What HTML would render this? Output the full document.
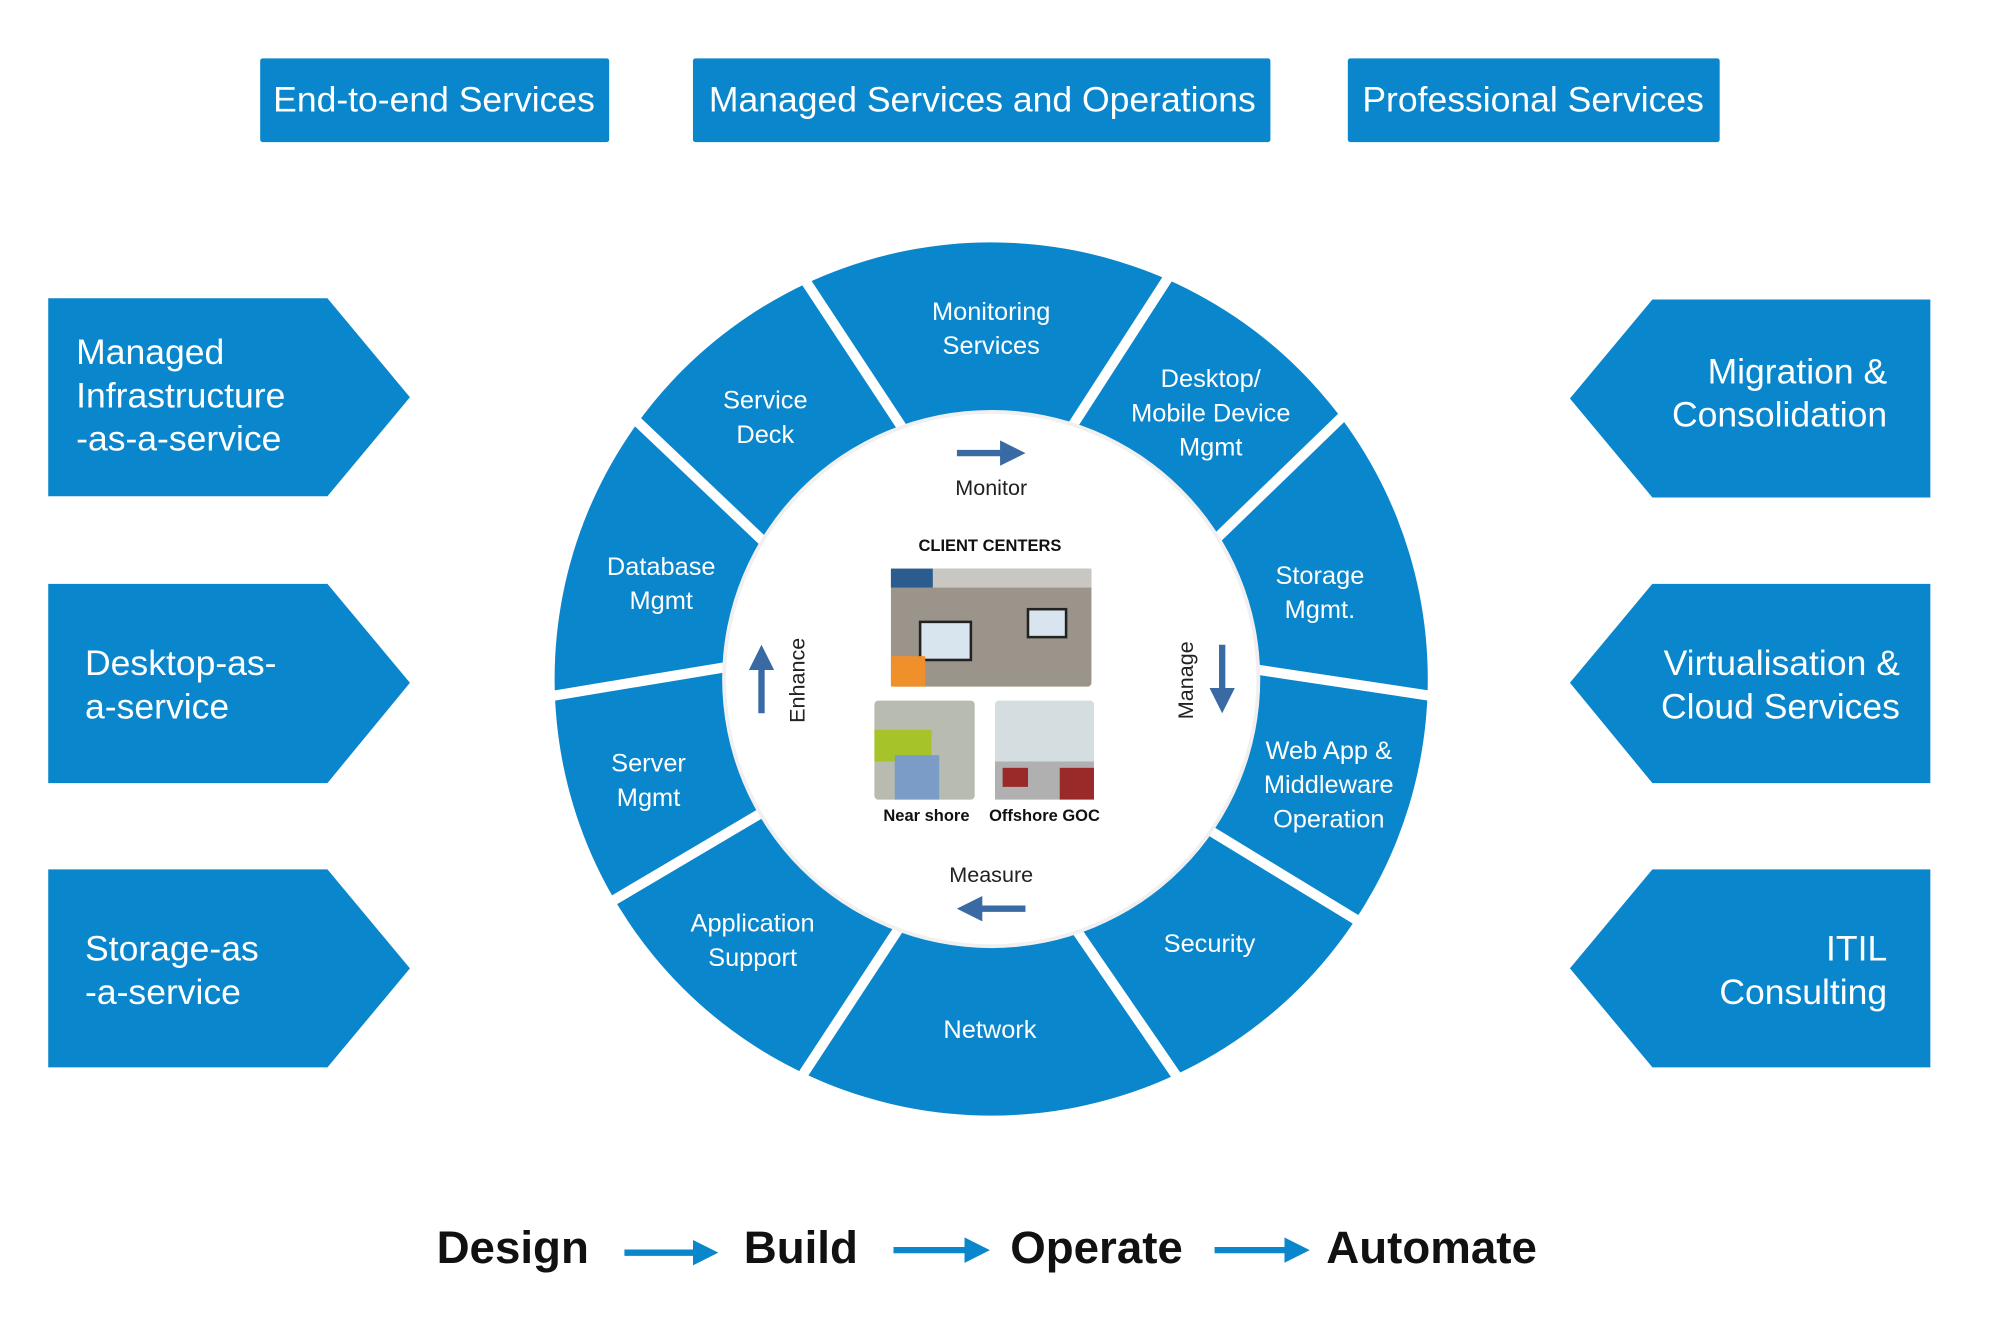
<!DOCTYPE html>
<html><head><meta charset="utf-8"><style>
html,body{margin:0;padding:0;background:#fff}
svg{display:block}
text{font-family:"Liberation Sans",Arial,sans-serif}
</style></head><body>
<svg width="1990" height="1333" viewBox="0 0 1568 1050.3" preserveAspectRatio="none" xmlns="http://www.w3.org/2000/svg">
<defs>
<marker id="ah" markerWidth="4" markerHeight="4" refX="2" refY="2" orient="auto" markerUnits="strokeWidth"><path d="M0,0 L4,2 L0,4 z" fill="#3a6aa3"/></marker>
<marker id="bh" markerWidth="4" markerHeight="4" refX="2" refY="2" orient="auto" markerUnits="strokeWidth"><path d="M0,0 L4,2 L0,4 z" fill="#0a86cc"/></marker>
</defs>
<g fill="#0a86cc">
<rect x="205" y="46" width="275" height="66" rx="2"/>
<rect x="546" y="46" width="455" height="66" rx="2"/>
<rect x="1062" y="46" width="293" height="66" rx="2"/>
<path d="M38,235 H258 L323,313 L258,391 H38 Z"/>
<path d="M38,460 H258 L323,538 L258,617 H38 Z"/>
<path d="M38,685 H258 L323,763 L258,841 H38 Z"/>
<path d="M1521,236 H1302 L1237,314 L1302,392 H1521 Z"/>
<path d="M1521,460 H1302 L1237,538 L1302,617 H1521 Z"/>
<path d="M1521,685 H1302 L1237,763 L1302,841 H1521 Z"/>
</g>
<g fill="#fff" font-size="28">
<text x="342" y="88" text-anchor="middle">End-to-end Services</text>
<text x="774" y="88" text-anchor="middle">Managed Services and Operations</text>
<text x="1208" y="88" text-anchor="middle">Professional Services</text>
<text x="60" y="287">Managed</text>
<text x="60" y="321">Infrastructure</text>
<text x="60" y="355">-as-a-service</text>
<text x="67" y="532">Desktop-as-</text>
<text x="67" y="566">a-service</text>
<text x="67" y="757">Storage-as</text>
<text x="67" y="791">-a-service</text>
<text x="1487" y="302" text-anchor="end">Migration &amp;</text>
<text x="1487" y="336" text-anchor="end">Consolidation</text>
<text x="1497" y="532" text-anchor="end">Virtualisation &amp;</text>
<text x="1497" y="566" text-anchor="end">Cloud Services</text>
<text x="1487" y="757" text-anchor="end">ITIL</text>
<text x="1487" y="791" text-anchor="end">Consulting</text>
</g>
<circle cx="781" cy="535" r="344" fill="#0a86cc"/>
<g stroke="#fff" stroke-width="8">
<line x1="740.3" y1="381.6" x2="621.6" y2="201.5"/>
<line x1="818.6" y1="376.4" x2="933.3" y2="198.8"/>
<line x1="925.8" y1="456" x2="1074.6" y2="312"/>
<line x1="940" y1="520" x2="1151.9" y2="552"/>
<line x1="911.4" y1="628.8" x2="1089.8" y2="737.6"/>
<line x1="819.9" y1="691.8" x2="938.6" y2="864.6"/>
<line x1="733.8" y1="692.6" x2="622.5" y2="862.2"/>
<line x1="635" y1="619.8" x2="464.5" y2="720.6"/>
<line x1="625.3" y1="516.8" x2="410" y2="552.5"/>
<line x1="638.2" y1="461.4" x2="482.5" y2="313.5"/>
</g>
<circle cx="781" cy="535" r="212" fill="#f0f0f0"/>
<circle cx="781" cy="535" r="209" fill="#fff"/>
<g fill="#fff" font-size="20" text-anchor="middle">
<text x="781" y="252">Monitoring</text><text x="781" y="279">Services</text>
<text x="603" y="322">Service</text><text x="603" y="349">Deck</text>
<text x="954" y="305">Desktop/</text><text x="954" y="332">Mobile Device</text><text x="954" y="359">Mgmt</text>
<text x="1040" y="460">Storage</text><text x="1040" y="487">Mgmt.</text>
<text x="1047" y="598">Web App &amp;</text><text x="1047" y="625">Middleware</text><text x="1047" y="652">Operation</text>
<text x="953" y="750">Security</text>
<text x="780" y="818">Network</text>
<text x="593" y="734">Application</text><text x="593" y="761">Support</text>
<text x="511" y="608">Server</text><text x="511" y="635">Mgmt</text>
<text x="521" y="453">Database</text><text x="521" y="480">Mgmt</text>
</g>
<g stroke="#3a6aa3" stroke-width="5" fill="none">
<line x1="754" y1="357" x2="798" y2="357" marker-end="url(#ah)"/>
<line x1="963" y1="508" x2="963" y2="552" marker-end="url(#ah)"/>
<line x1="808" y1="716" x2="764" y2="716" marker-end="url(#ah)"/>
<line x1="600" y1="562" x2="600" y2="518" marker-end="url(#ah)"/>
</g>
<g fill="#222" font-size="17" text-anchor="middle">
<text x="781" y="390">Monitor</text>
<text x="781" y="695">Measure</text>
<text transform="translate(940,536) rotate(-90)">Manage</text>
<text transform="translate(634,536) rotate(-90)">Enhance</text>
</g>
<text x="780" y="434" font-size="13" font-weight="bold" text-anchor="middle" fill="#111">CLIENT CENTERS</text>
<rect x="702" y="448" width="158" height="93" rx="3" fill="#9a948a"/>
<rect x="702" y="448" width="158" height="15" fill="#c9c7c2"/>
<rect x="702" y="448" width="33" height="15" fill="#2a5c90"/>
<rect x="725" y="490" width="40" height="30" fill="#d8e4ee" stroke="#222" stroke-width="2"/>
<rect x="810" y="480" width="30" height="22" fill="#d8e4ee" stroke="#222" stroke-width="2"/>
<rect x="702" y="517" width="27" height="24" fill="#f0902a"/>
<rect x="689" y="552" width="79" height="78" rx="3" fill="#b8bbb0"/>
<rect x="689" y="575" width="45" height="25" fill="#a6c32a"/>
<rect x="705" y="595" width="35" height="35" fill="#7c9cc8"/>
<rect x="784" y="552" width="78" height="78" rx="3" fill="#d4dde0"/>
<rect x="784" y="600" width="78" height="30" fill="#b0b0b0"/>
<rect x="790" y="605" width="20" height="15" fill="#9a2a2a"/><rect x="835" y="605" width="27" height="25" fill="#9a2a2a"/>
<g font-size="13" font-weight="bold" fill="#111" text-anchor="middle">
<text x="730" y="647">Near shore</text><text x="823" y="647">Offshore GOC</text>
</g>
<g font-size="36" font-weight="bold" fill="#111">
<text x="344" y="995">Design</text>
<text x="586" y="995">Build</text>
<text x="796" y="995">Operate</text>
<text x="1045" y="995">Automate</text>
</g>
<g stroke="#0a86cc" stroke-width="5">
<line x1="492" y1="987" x2="556" y2="987" marker-end="url(#bh)"/>
<line x1="704" y1="985" x2="770" y2="985" marker-end="url(#bh)"/>
<line x1="957" y1="985" x2="1022" y2="985" marker-end="url(#bh)"/>
</g>
</svg>
</body></html>
